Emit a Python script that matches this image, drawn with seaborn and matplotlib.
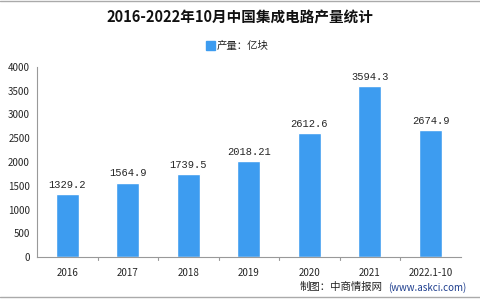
import matplotlib
matplotlib.use('Agg')
import matplotlib.pyplot as plt
import seaborn as sns
import pandas as pd

categories = ['2016', '2017', '2018', '2019', '2020', '2021', '2022.1-10']
output = [1329.2, 1564.9, 1739.5, 2018.21, 2612.6, 3594.3, 2674.9]
labels = ['1329.2', '1564.9', '1739.5', '2018.21', '2612.6', '3594.3', '2674.9']
yticks = [0, 500, 1000, 1500, 2000, 2500, 3000, 3500, 4000]

sns.set_style('white')
plt.rcParams['font.family'] = ['Noto Sans CJK SC', 'DejaVu Sans']

df = pd.DataFrame({'year': categories, 'val': output})

fig = plt.figure(figsize=(4.8, 3), dpi=100)
ax = fig.add_axes([0.077, 0.143, 0.883, 0.634])
bar_color = '#3d9cf0'
sns.barplot(data=df, x='year', y='val', color=bar_color, width=0.38,
            saturation=1, ax=ax)

for i, (v, t) in enumerate(zip(output, labels)):
    ax.text(i, v + 90, t, ha='center', va='bottom', fontsize=7.5,
            family=['Liberation Mono', 'DejaVu Sans Mono'])

ax.set_ylim(0, 4000)
ax.set_xlim(-0.5, 6.5)
ax.set_yticks(yticks)
ax.set_yticklabels([str(t) for t in yticks], fontsize=7)
ax.set_xticks(range(len(categories)))
ax.set_xticklabels(categories, fontsize=7)
ax.set_xlabel('')
ax.set_ylabel('')
for s in ['top', 'right']:
    ax.spines[s].set_visible(False)
for s in ['left', 'bottom']:
    ax.spines[s].set_color('#999999')
    ax.spines[s].set_linewidth(0.8)
ax.tick_params(axis='y', length=3, color='#999999', pad=2)
ax.tick_params(axis='x', length=0, pad=8)
for b in [i - 0.5 for i in range(1, len(categories))]:
    ax.plot([b, b], [0, -60], color='#999999', lw=0.8, clip_on=False)

fig.text(0.5, 0.94, '2016-2022年10月中国集成电路产量统计', ha='center',
         va='center', fontsize=10.5, fontweight='bold', color='#111111')
fig.patches.append(plt.Rectangle((0.43, 0.832), 0.018, 0.03, color=bar_color,
                                 transform=fig.transFigure, figure=fig))
fig.text(0.452, 0.847, '产量：亿块', ha='left', va='center', fontsize=7.5)
fig.text(0.625, 0.043, '制图：中商情报网', ha='left', va='center',
         fontsize=7.5, color='#222222')
fig.text(0.808, 0.043, '(www.askci.com)', ha='left', va='center',
         fontsize=7, color='#1f3f8f')

fig.add_artist(plt.Line2D([0, 1], [0.998, 0.998], color='#aaaaaa', lw=1,
                          transform=fig.transFigure))
fig.add_artist(plt.Line2D([0, 1], [0.01, 0.01], color='#aaaaaa', lw=1,
                          transform=fig.transFigure))

fig.savefig('out.png', dpi=100)
